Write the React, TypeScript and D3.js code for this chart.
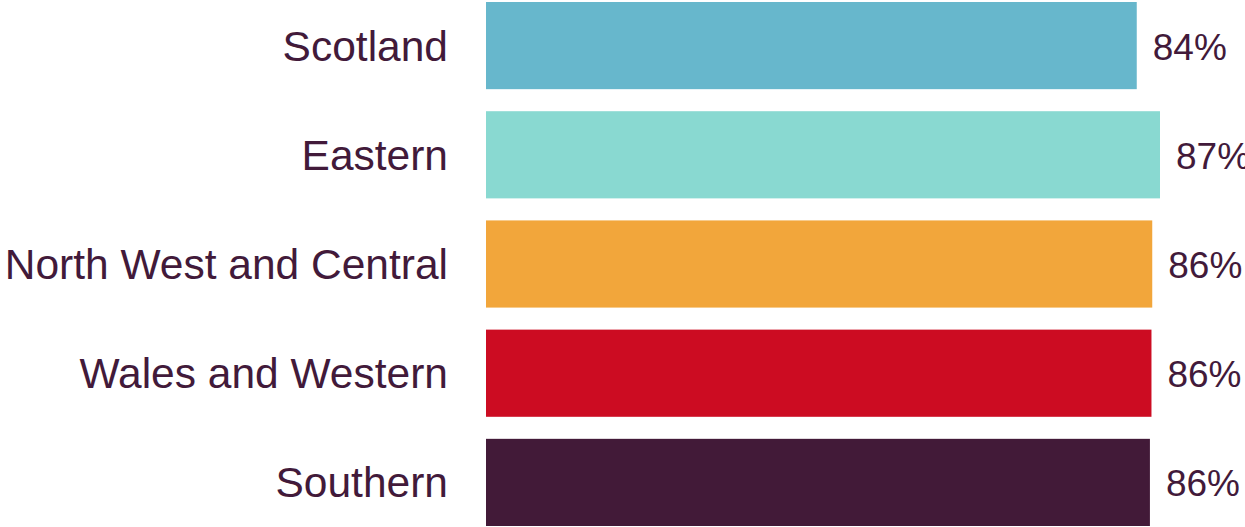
import React from "react";
import * as d3 from "d3";

const categories = ["Scotland", "Eastern", "North West and Central", "Wales and Western", "Southern"];
const values = [84.0, 87.0, 86.0, 85.9, 85.7];
const labels = ["84%", "87%", "86%", "86%", "86%"];
const colors = ["#67b7cc", "#89d9d1", "#f2a63b", "#cc0c22", "#421a38"];

const W = 1245;
const H = 527;
const textColor = "#421a3a";

export default function App() {
  const x0 = 486;
  const x = d3.scaleLinear().domain([0, 100]).range([x0, x0 + 774.7]);
  const y = d3.scaleBand<string>().domain(categories).range([2, 526]).paddingInner(22 / 109).paddingOuter(0);
  return (
    <svg width={W} height={H} style={{ position: "absolute", left: 0, top: 0, background: "#fff" }}
      fontFamily="'Liberation Sans', Arial, sans-serif">
      {categories.map((c, i) => {
        const yy = y(c)!;
        const cy = yy + y.bandwidth() / 2;
        return (
          <g key={c}>
            <rect x={x(0)} y={yy} width={x(values[i]) - x(0)} height={y.bandwidth()} fill={colors[i]} />
            <text x={448} y={cy + 15} textAnchor="end" fontSize={42.5} fill={textColor}>{c}</text>
            <text x={x(values[i]) + 16} y={cy + 14} fontSize={37} fill={textColor}>{labels[i]}</text>
          </g>
        );
      })}
    </svg>
  );
}
